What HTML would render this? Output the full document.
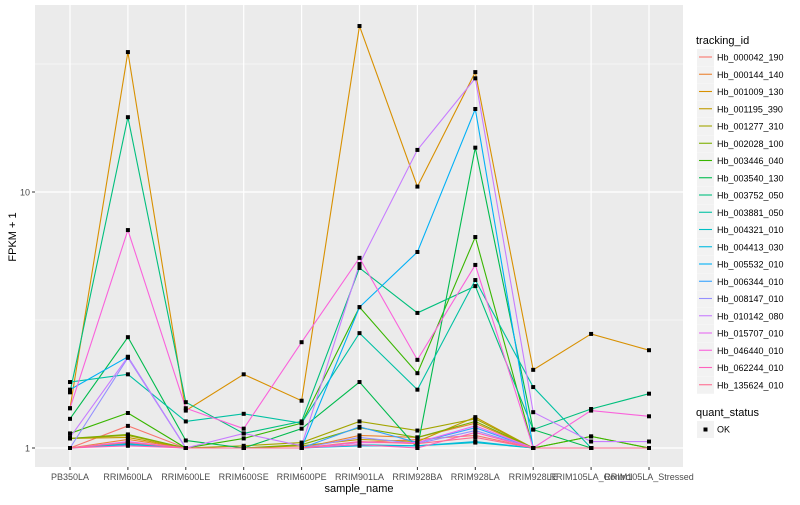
<!DOCTYPE html>
<html><head><meta charset="utf-8"><style>
body{margin:0;background:#fff;font-family:"Liberation Sans",sans-serif}
</style></head><body>
<svg id="chart" width="800" height="500" xmlns="http://www.w3.org/2000/svg" font-family="Liberation Sans, sans-serif">
<rect width="800" height="500" fill="#fff"/>
<rect x="35" y="5" width="648" height="462" fill="#EBEBEB"/>
<g id="grid"></g><g id="lines"></g><g id="pts"></g><g id="axes"></g><g id="legend"></g>
<text x="359" y="492" font-size="11" text-anchor="middle">sample_name</text>
<text transform="translate(16,237) rotate(-90)" font-size="11" text-anchor="middle">FPKM + 1</text>
</svg>
<script>
const categories=["PB350LA","RRIM600LA","RRIM600LE","RRIM600SE","RRIM600PE","RRIM901LA","RRIM928BA","RRIM928LA","RRIM928LE","RRIM105LA_Control","RRIM105LA_Stressed"];
const seriesNames=["Hb_000042_190","Hb_000144_140","Hb_001009_130","Hb_001195_390","Hb_001277_310","Hb_002028_100","Hb_003446_040","Hb_003540_130","Hb_003752_050","Hb_003881_050","Hb_004321_010","Hb_004413_030","Hb_005532_010","Hb_006344_010","Hb_008147_010","Hb_010142_080","Hb_015707_010","Hb_046440_010","Hb_062244_010","Hb_135624_010"];
const colors=["#F8766D","#EA8331","#D89000","#C09B00","#A3A500","#7CAE00","#39B600","#00BB4E","#00BF7D","#00C1A3","#00BFC4","#00BAE0","#00B0F6","#35A2FF","#9590FF","#C77CFF","#E76BF3","#FA62DB","#FF62BC","#FF6C91"];
const s0=[1.0,1.22,1.0,1.0,1.0,1.05,1.08,1.12,1.0,1.0,1.0];
const s1=[1.0,1.08,1.0,1.0,1.0,1.12,1.1,1.25,1.0,1.0,1.0];
const s2=[1.43,35.2,1.40,1.94,1.53,44.5,10.5,29.4,2.02,2.79,2.41];
const s3=[1.09,1.1,1.0,1.0,1.02,1.08,1.06,1.32,1.0,1.0,1.0];
const s4=[1.09,1.12,1.0,1.02,1.05,1.27,1.17,1.3,1.0,1.0,1.0];
const s5=[1.09,1.13,1.0,1.0,1.03,1.2,1.1,1.27,1.0,1.11,1.0];
const s6=[1.14,1.37,1.0,1.09,1.25,3.55,1.96,6.67,1.0,1.11,1.0];
const s7=[1.30,2.71,1.07,1.0,1.19,1.81,1.0,14.9,1.18,1.0,1.0];
const s8=[1.65,19.6,1.51,1.14,1.27,5.05,3.37,4.29,1.18,1.42,1.63];
const s9=[1.81,1.94,1.27,1.36,1.25,2.81,1.69,4.53,1.73,1.0,1.0];
const s10=[1.0,1.04,1.0,1.0,1.0,1.03,1.02,1.05,1.0,1.0,1.0];
const s11=[1.0,1.03,1.0,1.0,1.0,1.02,1.02,1.06,1.0,1.0,1.0];
const s12=[1.69,2.27,1.0,1.0,1.0,3.55,5.83,21.1,1.0,1.0,1.0];
const s13=[1.0,1.05,1.0,1.0,1.0,1.21,1.05,1.2,1.0,1.0,1.0];
const s14=[1.0,2.25,1.0,1.0,1.0,1.1,1.04,1.17,1.0,1.0,1.0];
const s15=[1.1,2.27,1.0,1.14,1.02,5.23,14.6,27.8,1.38,1.06,1.06];
const s16=[1.0,1.06,1.0,1.0,1.0,1.05,1.05,1.22,1.0,1.0,1.0];
const s17=[1.43,7.1,1.43,1.19,2.59,5.53,2.21,5.19,1.0,1.40,1.33];
const s18=[1.0,1.02,1.0,1.0,1.0,1.03,1.0,1.15,1.0,1.0,1.0];
const s19=[1.0,1.05,1.0,1.0,1.0,1.06,1.04,1.1,1.0,1.0,1.0];
const seriesValues=[s0,s1,s2,s3,s4,s5,s6,s7,s8,s9,s10,s11,s12,s13,s14,s15,s16,s17,s18,s19];
const yMajorTicks=[1,10];
const yMinorTicks=[Math.sqrt(10),Math.sqrt(1000)];
const yTickLabels=["1","10"];

const NS="http://www.w3.org/2000/svg";
function mk(t,a,p){const e=document.createElementNS(NS,t);for(const k in a)e.setAttribute(k,a[k]);p.appendChild(e);return e;}
const X0=70,DX=57.9,Y1=448,DEC=256,PB=467;
function xs(i){return X0+i*DX;}
function ys(v){return Y1-Math.log10(v)*DEC;}
const grid=document.getElementById('grid');
yMinorTicks.forEach(v=>{const l=mk('line',{x1:35,x2:683,y1:ys(v),y2:ys(v),stroke:'#fff','stroke-width':0.6},grid);

});
yMajorTicks.forEach(v=>{const l=mk('line',{x1:35,x2:683,y1:ys(v),y2:ys(v),stroke:'#fff','stroke-width':1.2},grid);

});
categories.forEach((c,i)=>{const l=mk('line',{x1:xs(i),x2:xs(i),y1:5,y2:PB,stroke:'#fff','stroke-width':1.2},grid);

});
const axes=document.getElementById('axes');
yMajorTicks.forEach((v,i)=>{
const tk=mk('line',{x1:32,x2:35,y1:ys(v),y2:ys(v),stroke:'#333'},axes);


const t=mk('text',{x:30,y:ys(v)+3.5,'font-size':9,'text-anchor':'end',fill:'#4D4D4D'},axes);t.textContent=yTickLabels[i];

});
categories.forEach((c,i)=>{
const tk=mk('line',{x1:xs(i),x2:xs(i),y1:PB,y2:PB+3,stroke:'#333'},axes);


const t=mk('text',{x:xs(i),y:480,'font-size':9,'text-anchor':'middle',fill:'#4D4D4D'},axes);t.textContent=c;

});
const lines=document.getElementById('lines'),pts=document.getElementById('pts');
seriesValues.forEach((vals,s)=>{
const p=mk('polyline',{points:vals.map((v,i)=>xs(i)+','+ys(v)).join(' '),fill:'none',stroke:colors[s],'stroke-width':1.1},lines);


vals.forEach((v,i)=>{const r=mk('rect',{x:xs(i)-2,y:ys(v)-2,width:4,height:4,fill:'#000'},pts);

});
});
const lg=document.getElementById('legend');
const tt=mk('text',{x:696,y:44,'font-size':11},lg);tt.textContent='tracking_id';


seriesNames.forEach((n,i)=>{const y=57+i*17.25;
const g=mk('g',{},lg);


mk('rect',{x:697,y:y-8,width:17,height:17,fill:'#F2F2F2'},g);
mk('line',{x1:699,x2:712,y1:y,y2:y,stroke:colors[i],'stroke-width':1.1},g);
const t=mk('text',{x:717,y:y+3.5,'font-size':9},g);t.textContent=n;});
const qt=mk('text',{x:696,y:416,'font-size':11},lg);qt.textContent='quant_status';


const og=mk('g',{},lg);


mk('rect',{x:697,y:421,width:17,height:17,fill:'#F2F2F2'},og);
mk('rect',{x:703.5,y:427.5,width:4,height:4,fill:'#000'},og);
const ot=mk('text',{x:717,y:432.5,'font-size':9},og);ot.textContent='OK';
</script>
</body></html>
